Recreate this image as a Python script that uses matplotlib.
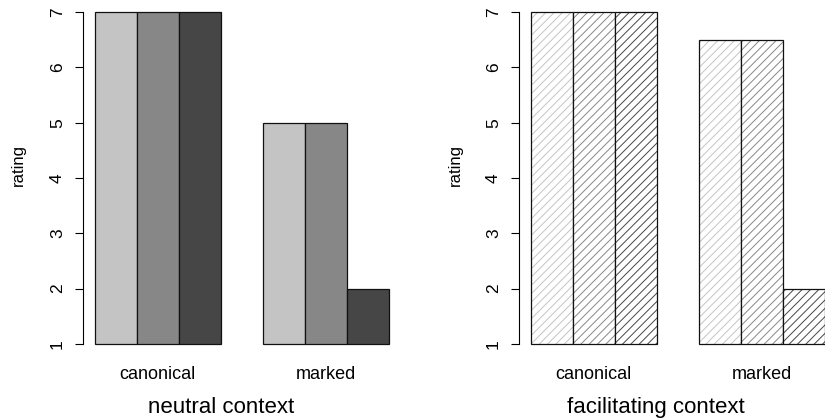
import matplotlib
matplotlib.use("Agg")
import matplotlib.pyplot as plt
import numpy as np

plt.rcParams['font.family'] = ['Liberation Sans', 'DejaVu Sans']
plt.rcParams['hatch.linewidth'] = 0.7

categories = ["canonical", "marked"]
neutral = [[7, 7, 7], [5, 5, 2]]
facilitating = [[7, 7, 7], [6.5, 6.5, 2]]
panel_titles = ["neutral context", "facilitating context"]
yticks = [1, 2, 3, 4, 5, 6, 7]
shades = ["#C4C4C4", "#878787", "#464646"]

W, H = 825, 420
fig = plt.figure(figsize=(W / 100, H / 100), dpi=100)

def px(x0, y0, w, h):
    return [x0 / W, 1 - (y0 + h) / H, w / W, h / H]

axes_px = [(83, 12, 318, 332), (519, 12, 318, 332)]
title_x = [221, 656]
ylab_x = [18, 455]

# bar positions (R barplot beside=TRUE, space=c(0,1))
centers = []
for g in range(2):
    base = 1 + g * 4
    centers.append([base + 0.5 + k for k in range(3)])

for p, data in enumerate([neutral, facilitating]):
    ax = fig.add_axes(px(*axes_px[p]))
    for g in range(2):
        for k in range(3):
            v = data[g][k]
            x = centers[g][k]
            if p == 0:
                ax.bar(x, v - 1, bottom=1, width=1, color=shades[k],
                       edgecolor="#111111", linewidth=0.9, clip_on=False)
            else:
                ax.bar(x, v - 1, bottom=1, width=1, color="white",
                       edgecolor=shades[k], hatch="////", linewidth=0,
                       clip_on=False)
                ax.bar(x, v - 1, bottom=1, width=1, color="none",
                       edgecolor="#111111", linewidth=0.9, clip_on=False)
    ax.set_xlim(0.72, 8.28)
    ax.set_ylim(1, 7)
    for s in ["top", "right", "bottom"]:
        ax.spines[s].set_visible(False)
    ax.spines["left"].set_linewidth(0.8)
    ax.set_yticks(yticks)
    ax.set_yticklabels([str(t) for t in yticks], rotation=90, va="center",
                       fontsize=12.5)
    ax.tick_params(axis="y", length=6, width=0.8, pad=7)
    ax.set_xticks([np.mean(c) for c in centers])
    ax.set_xticklabels(categories, fontsize=13)
    ax.tick_params(axis="x", length=0, pad=16)
    ax.patch.set_alpha(0)
    fig.text(ylab_x[p] / W, 1 - 165 / H, "rating", rotation=90,
             ha="center", va="center", fontsize=12)
    fig.text(title_x[p] / W, 1 - 413 / H, panel_titles[p],
             ha="center", va="baseline", fontsize=16)

fig.savefig("out.png", dpi=100)
